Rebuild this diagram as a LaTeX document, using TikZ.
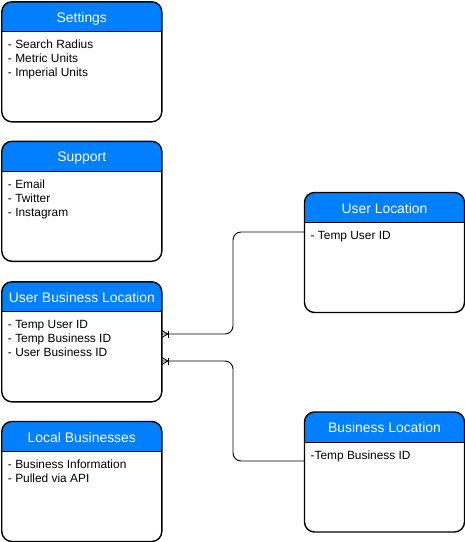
\documentclass[tikz,border=0pt]{standalone}
\usepackage{fontspec}
\setmainfont{Liberation Sans}
\definecolor{hdr}{RGB}{0,127,255}
\tikzset{
  entbox/.style={draw=black, line width=1.4pt, rounded corners=10pt, minimum width=160pt, minimum height=120pt, inner sep=0pt},
  hdrtext/.style={text=white, font=\fontsize{13.9}{16}\selectfont, inner sep=0pt, anchor=base},
  bodytext/.style={text=black, font=\fontsize{11.9}{14}\selectfont, inner sep=0pt, anchor=base west},
  conn/.style={draw=black, line width=0.9pt, rounded corners=8pt},
  crow/.style={draw=black, line width=0.9pt}
}
\newcommand\entity[5]{%
  \begin{scope}[shift={(#2,#3)}]
    \fill[hdr] (0,30) {[rounded corners=10pt] -- (0,0) -- (160,0)} -- (160,30) -- cycle;
    \node[entbox] (#1) at (80,60) {};
    \draw[line width=1pt] (0,30) -- (160,30);
    \node[hdrtext] (#1-t) at (80,20.5) {#4};
    \foreach \t [count=\i] in {#5} {
      \node[bodytext] (#1-l\i) at (6,33+14*\i) {\t};
    }
  \end{scope}}
\begin{document}
\begin{tikzpicture}[x=1pt,y=-1pt]
\useasboundingbox (0,0) rectangle (465,542);
\entity{settings}{1.8}{1.8}{Settings}{- Search Radius,- Metric Units,- Imperial Units}
\entity{support}{1.8}{141.3}{Support}{- Email,- Twitter,- Instagram}
\entity{ubl}{1.8}{281.8}{User Business Location}{- Temp User ID,- Temp Business ID,- User Business ID}
\entity{local}{1.8}{421.5}{Local Businesses}{- Business Information,- Pulled via API}
\entity{uloc}{304.5}{192.5}{User Location}{- Temp User ID}
\entity{bloc}{304.5}{412}{Business Location}{-Temp Business ID}

% connector 1: User Location -> UBL
\coordinate (c1a) at (304.5,232);
\coordinate (c1b) at (161.8,334);
\coordinate (c1m) at (233,0);
\draw[conn] (c1a) -- (c1m |- c1a) -- (c1m |- c1b) -- (c1b);
\draw[crow] (c1b) ++(0,-3.5) -- ++(6,3.5) -- ++(-6,3.5);
\draw[crow] (168.5,330.5) -- (168.5,337.5);

% connector 2: Business Location -> UBL
\coordinate (c2a) at (304.5,461);
\coordinate (c2b) at (161.8,361);
\draw[conn] (c2a) -- (c1m |- c2a) -- (c1m |- c2b) -- (c2b);
\draw[crow] (c2b) ++(0,-3.5) -- ++(6,3.5) -- ++(-6,3.5);
\draw[crow] (168.5,357.5) -- (168.5,364.5);
\end{tikzpicture}
\end{document}
